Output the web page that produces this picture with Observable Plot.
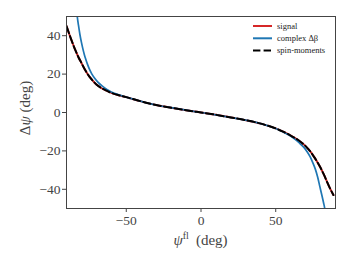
<!DOCTYPE html>
<html>
<head>
<meta charset="utf-8">
<script src="https://cdn.jsdelivr.net/npm/d3@7"></script>
<script src="https://cdn.jsdelivr.net/npm/@observablehq/plot@0.6"></script>
<style>
  html, body { margin: 0; padding: 0; background: #fff; }
  #chart { position: relative; width: 352px; height: 264px; }
  #chart svg { font-family: "Liberation Serif", serif; }
</style>
</head>
<body>
<div id="chart"></div>
<script>
// signal (red) and spin-moments (black dashed) coincide
const psiSignal = [-90, -88, -86, -84, -82, -80, -78, -76, -74, -72, -70, -67, -64, -60, -55, -50, -40, -30, -20, -10, 0, 10, 20, 30, 40, 50, 55, 60, 64, 67, 70, 72, 74, 76, 78, 80, 82, 84, 86, 88.6];
const dpsiSignal = [45, 40.5, 36.3, 32.3, 28.8, 25.8, 22.8, 20.2, 18, 16.2, 14.6, 12.9, 11.6, 10.2, 9, 8, 5.8, 3.9, 2.5, 1.2, 0, -1.2, -2.6, -4, -5.8, -8.3, -10, -12, -13.8, -15.5, -17.5, -19.2, -21.2, -23.5, -26, -28.8, -32, -35.5, -39, -43];
const dpsiSpin = dpsiSignal.slice();
// complex Δβ (blue)
const psiComplex = [-84, -82.8, -82, -81, -80, -79, -78, -77, -76, -74.5, -73, -71, -69, -66, -63, -60, -55, -50, -40, -30, -20, -10, 0, 10, 20, 30, 40, 50, 55, 60, 63, 66, 69, 71, 73, 75, 76.5, 78, 79.5, 81, 82, 82.8, 84];
const dpsiComplex = [62, 50, 45.5, 40.5, 36.5, 33, 30, 27.5, 25.2, 22.3, 20, 17.7, 15.8, 13.7, 12, 10.7, 9.2, 8, 5.8, 3.9, 2.5, 1.2, 0, -1.2, -2.6, -4, -5.8, -8.3, -10.1, -12.3, -14, -16, -18.3, -20.4, -23, -26.5, -29.5, -33.5, -38.5, -43.5, -47, -50, -60];

const seriesNames = ["signal", "complex \u0394\u03B2", "spin-moments"];
const xTicks = [-50, 0, 50];
const yTicks = [-40, -20, 0, 20, 40];

const sig = psiSignal.map((x, i) => ({x, y: dpsiSignal[i]}));
const spin = psiSignal.map((x, i) => ({x, y: dpsiSpin[i]}));
const cplx = psiComplex.map((x, i) => ({x, y: dpsiComplex[i]}));

const fmt = d => d < 0 ? "\u2212" + Math.abs(d) : String(d);

const plot = Plot.plot({
  width: 352,
  height: 264,
  marginLeft: 66,
  marginRight: 17,
  marginTop: 16,
  marginBottom: 56,
  style: {fontFamily: "Liberation Serif, serif", fontSize: "13.5px", color: "#444"},
  x: {domain: [-90, 90]},
  y: {domain: [-50, 50]},
  marks: [
    Plot.axisX({ticks: xTicks, tickFormat: fmt, tickSize: 4, tickPadding: 3, label: null, stroke: "#444", fill: "#444", fontSize: 13.5}),
    Plot.axisY({ticks: yTicks, tickFormat: fmt, tickSize: 4, tickPadding: 2, label: null, stroke: "#444", fill: "#444", fontSize: 13.5}),
    Plot.line(sig, {x: "x", y: "y", stroke: "#d62728", strokeWidth: 2, clip: true, curve: "catmull-rom"}),
    Plot.line(cplx, {x: "x", y: "y", stroke: "#1f77b4", strokeWidth: 1.7, clip: true, curve: "catmull-rom"}),
    Plot.line(spin, {x: "x", y: "y", stroke: "#000", strokeWidth: 2, strokeDasharray: "7.4,3.2", clip: true, curve: "catmull-rom"}),
    Plot.frame({stroke: "#444", strokeWidth: 1})
  ]
});

document.getElementById("chart").appendChild(plot);

const svg = d3.select(plot);
const xs = plot.scale("x"), ys = plot.scale("y");

// axis labels
const xl = svg.append("text")
  .attr("x", (xs.apply(-90) + xs.apply(90)) / 2)
  .attr("y", 245)
  .attr("text-anchor", "middle")
  .attr("font-size", 15)
  .attr("fill", "#444");
xl.append("tspan").attr("font-style", "italic").text("\u03C8");
xl.append("tspan").attr("font-size", 10).attr("dy", -6).text("fl");
xl.append("tspan").attr("dy", 6).attr("dx", 7).text("(deg)");

const yl = svg.append("text")
  .attr("transform", `translate(30, ${(ys.apply(-50) + ys.apply(50)) / 2 - 4}) rotate(-90)`)
  .attr("text-anchor", "middle")
  .attr("font-size", 15)
  .attr("fill", "#444");
yl.append("tspan").text("\u0394");
yl.append("tspan").attr("font-style", "italic").text("\u03C8");
yl.append("tspan").text(" (deg)");

// legend
const legendStyles = [
  {stroke: "#d62728", dash: null},
  {stroke: "#1f77b4", dash: null},
  {stroke: "#000", dash: "7.4,3.2"}
];
const lg = svg.append("g").attr("transform", "translate(253, 26)");
seriesNames.forEach((name, i) => {
  const row = lg.append("g").attr("transform", `translate(0, ${i * 12.3})`);
  row.append("line").attr("x1", 0).attr("x2", 19).attr("y1", 0).attr("y2", 0)
    .attr("stroke", legendStyles[i].stroke).attr("stroke-width", 2)
    .attr("stroke-dasharray", legendStyles[i].dash);
  row.append("text").attr("x", 24).attr("y", 0).attr("dy", "0.32em")
    .attr("text-anchor", "start")
    .attr("font-size", 8.5).attr("fill", "#222").text(name);
});
</script>
</body>
</html>
